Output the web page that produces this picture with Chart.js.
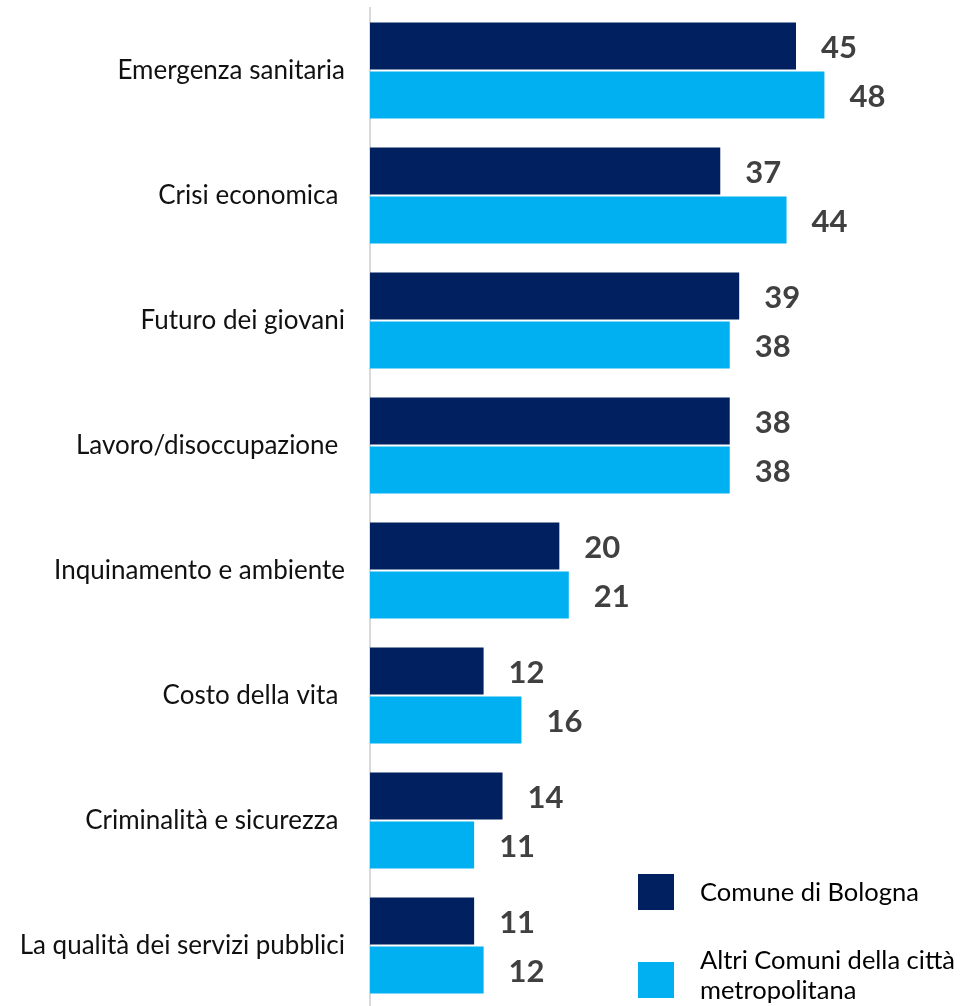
<!DOCTYPE html>
<html>
<head>
<meta charset="utf-8">
<script src="https://cdn.jsdelivr.net/npm/chart.js@4.4.0/dist/chart.umd.min.js"></script>
<style>
  html, body { margin: 0; padding: 0; background: #fff; overflow: hidden; }
  #wrap { position: absolute; left: 0; top: 0; width: 964px; height: 1010px; }
</style>
</head>
<body>
<div id="wrap"><canvas id="problemsChart"></canvas></div>
<script>
const categories = [
  'Emergenza sanitaria',
  'Crisi economica ',
  'Futuro dei giovani',
  'Lavoro/disoccupazione ',
  'Inquinamento e ambiente',
  'Costo della vita ',
  'Criminalità e sicurezza ',
  'La qualità dei servizi pubblici'
];
const bologna = [45, 37, 39, 38, 20, 12, 14, 11];
const altriComuni = [48, 44, 38, 38, 21, 16, 11, 12];
const seriesNames = ['Comune di Bologna', 'Altri Comuni della città\nmetropolitana'];
const seriesColors = ['#00205f', '#00b0f0'];

const fontFamily = 'Lato, "Open Sans", sans-serif';

// numbers at the end of each bar
const valueLabels = {
  id: 'valueLabels',
  afterDatasetsDraw(chart) {
    const ctx = chart.ctx;
    ctx.save();
    ctx.font = 'bold 31px ' + fontFamily;
    ctx.fillStyle = '#404040';
    ctx.textBaseline = 'middle';
    ctx.textAlign = 'left';
    chart.data.datasets.forEach((ds, i) => {
      chart.getDatasetMeta(i).data.forEach((bar, j) => {
        ctx.fillText(ds.data[j], bar.x + 25, bar.y + 2);
      });
    });
    ctx.restore();
  }
};

// legend in the bottom right corner
const cornerLegend = {
  id: 'cornerLegend',
  afterDraw(chart) {
    const ctx = chart.ctx;
    const boxTops = [874, 962];
    ctx.save();
    ctx.font = '25.5px ' + fontFamily;
    ctx.textBaseline = 'middle';
    chart.data.datasets.forEach((ds, i) => {
      ctx.fillStyle = ds.backgroundColor;
      ctx.fillRect(638, boxTops[i], 36, 36);
      ctx.fillStyle = '#000';
      const lines = ds.label.split('\n');
      const firstY = lines.length > 1 ? boxTops[i] - 1 : boxTops[i] + 19;
      lines.forEach((line, k) => ctx.fillText(line, 700, firstY + k * 30));
    });
    ctx.restore();
  }
};

new Chart(document.getElementById('problemsChart'), {
  type: 'bar',
  data: {
    labels: categories,
    datasets: [{
      label: seriesNames[0],
      data: bologna,
      backgroundColor: seriesColors[0],
      categoryPercentage: 0.785,
      barPercentage: 0.96
    }, {
      label: seriesNames[1],
      data: altriComuni,
      backgroundColor: seriesColors[1],
      categoryPercentage: 0.785,
      barPercentage: 0.96
    }]
  },
  options: {
    indexAxis: 'y',
    responsive: true,
    maintainAspectRatio: false,
    animation: false,
    layout: { padding: { top: 8, right: 26, bottom: 2, left: 0 } },
    scales: {
      x: {
        display: false,
        min: 0,
        max: 60
      },
      y: {
        afterFit(scale) {
          scale.width = 370;
          scale.paddingTop = 0;
          scale.paddingBottom = 0;
        },
        grid: { display: false, drawTicks: false },
        border: { display: true, color: '#d9d9d9', width: 2 },
        ticks: {
          color: '#111',
          padding: 25,
          font: { family: fontFamily, size: 26 }
        }
      }
    },
    plugins: {
      legend: { display: false },
      tooltip: { enabled: false }
    }
  },
  plugins: [valueLabels, cornerLegend]
});
</script>
</body>
</html>
